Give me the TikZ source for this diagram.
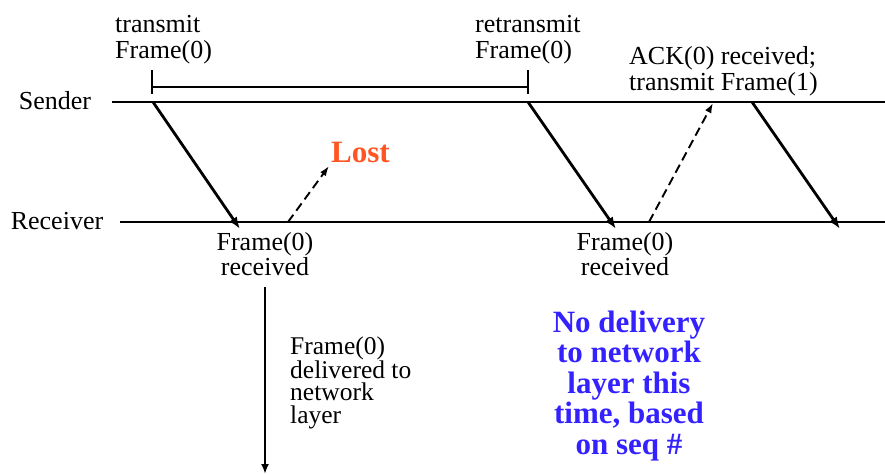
\documentclass[tikz,border=0pt]{standalone}
\usepackage{fontspec}
\setmainfont{Liberation Serif}
\usetikzlibrary{arrows,arrows.meta}
\definecolor{lostred}{RGB}{255,85,34}
\definecolor{noblue}{RGB}{51,34,255}

\begin{document}
\begin{tikzpicture}[x=1pt,y=-1pt,
  time line/.style={line width=1.1pt},
  frame arrow/.style={line width=2.8pt,-{Latex[length=12pt,width=9pt]}},
  ack arrow/.style={line width=1.9pt,dash pattern=on 9pt off 5pt,-{Latex[length=10pt,width=7pt]}},
  top note/.style={inner sep=0pt,align=left,anchor=base west,font=\fontsize{26}{26}\selectfont},
  low note/.style={inner sep=0pt,align=center,anchor=base,font=\fontsize{26}{22}\selectfont},
  side note/.style={inner sep=0pt,align=left,anchor=base west,font=\fontsize{25.5}{22.2}\selectfont}]

  \useasboundingbox (0,0) rectangle (885,474);

  % time lines
  \node[inner sep=0pt,anchor=base,font=\fontsize{26}{26}\selectfont] (sender) at (55,109) {Sender};
  \node[inner sep=0pt,anchor=base,font=\fontsize{26}{26}\selectfont] (receiver) at (57,229) {Receiver};
  \coordinate (s0) at (112,102);
  \coordinate (s9) at (885,102);
  \coordinate (r0) at (120,222);
  \coordinate (r9) at (885,222);
  \draw[time line] (s0) -- (s9);
  \draw[time line] (r0) -- (r9);

  % timer
  \coordinate (t1) at (152,87);
  \coordinate (t2) at (528,87);
  \draw[line width=1.5pt] (t1) -- (t2);
  \draw[line width=1.5pt] ([yshift=17pt]t1) -- ([yshift=-7pt]t1);
  \draw[line width=1.5pt] ([yshift=17pt]t2) -- ([yshift=-7pt]t2);

  % labels (base = last line)
  \node[top note] (tx) at (115,58) {transmit\\Frame(0)};
  \node[top note] (rtx) at (475,58) {retransmit\\Frame(0)};
  \node[top note] (ack) at (629,90) {ACK(0) received;\\transmit Frame(1)};
  \node[inner sep=0pt,anchor=base west,text=lostred,font=\fontsize{31}{31}\selectfont\bfseries] (lost) at (331,162) {Lost};
  \node[low note] (rx1) at (265,275) {Frame(0)\\received};
  \node[low note] (rx2) at (625,275) {Frame(0)\\received};
  \node[side note] (dl) at (290,423) {Frame(0)\\delivered to\\network\\layer};
  \node[inner sep=0pt,align=center,anchor=base,text=noblue,font=\fontsize{31}{30.5}\selectfont\bfseries] (nodl) at (629,454)
    {No delivery\\to network\\layer this\\time, based\\on seq \#};

  % frames and acks
  \coordinate (a1) at (153,102);
  \coordinate (b1) at (240,229);
  \coordinate (c1) at (288,222);
  \coordinate (d1) at (329,166);
  \coordinate (a2) at (528,102);
  \coordinate (b2) at (616,229);
  \coordinate (c2) at (649,222);
  \coordinate (d2) at (713,103);
  \coordinate (a3) at (752,102);
  \coordinate (b3) at (840,229);
  \coordinate (u1) at (265,287);
  \coordinate (u2) at (265,474);

  \path
    (a1) edge[frame arrow] (b1)
    (c1) edge[ack arrow] (d1)
    (a2) edge[frame arrow] (b2)
    (c2) edge[ack arrow] (d2)
    (a3) edge[frame arrow] (b3)
    (u1) edge[line width=2pt,-{Latex[length=10pt,width=8pt]}] (u2);
\end{tikzpicture}
\end{document}
